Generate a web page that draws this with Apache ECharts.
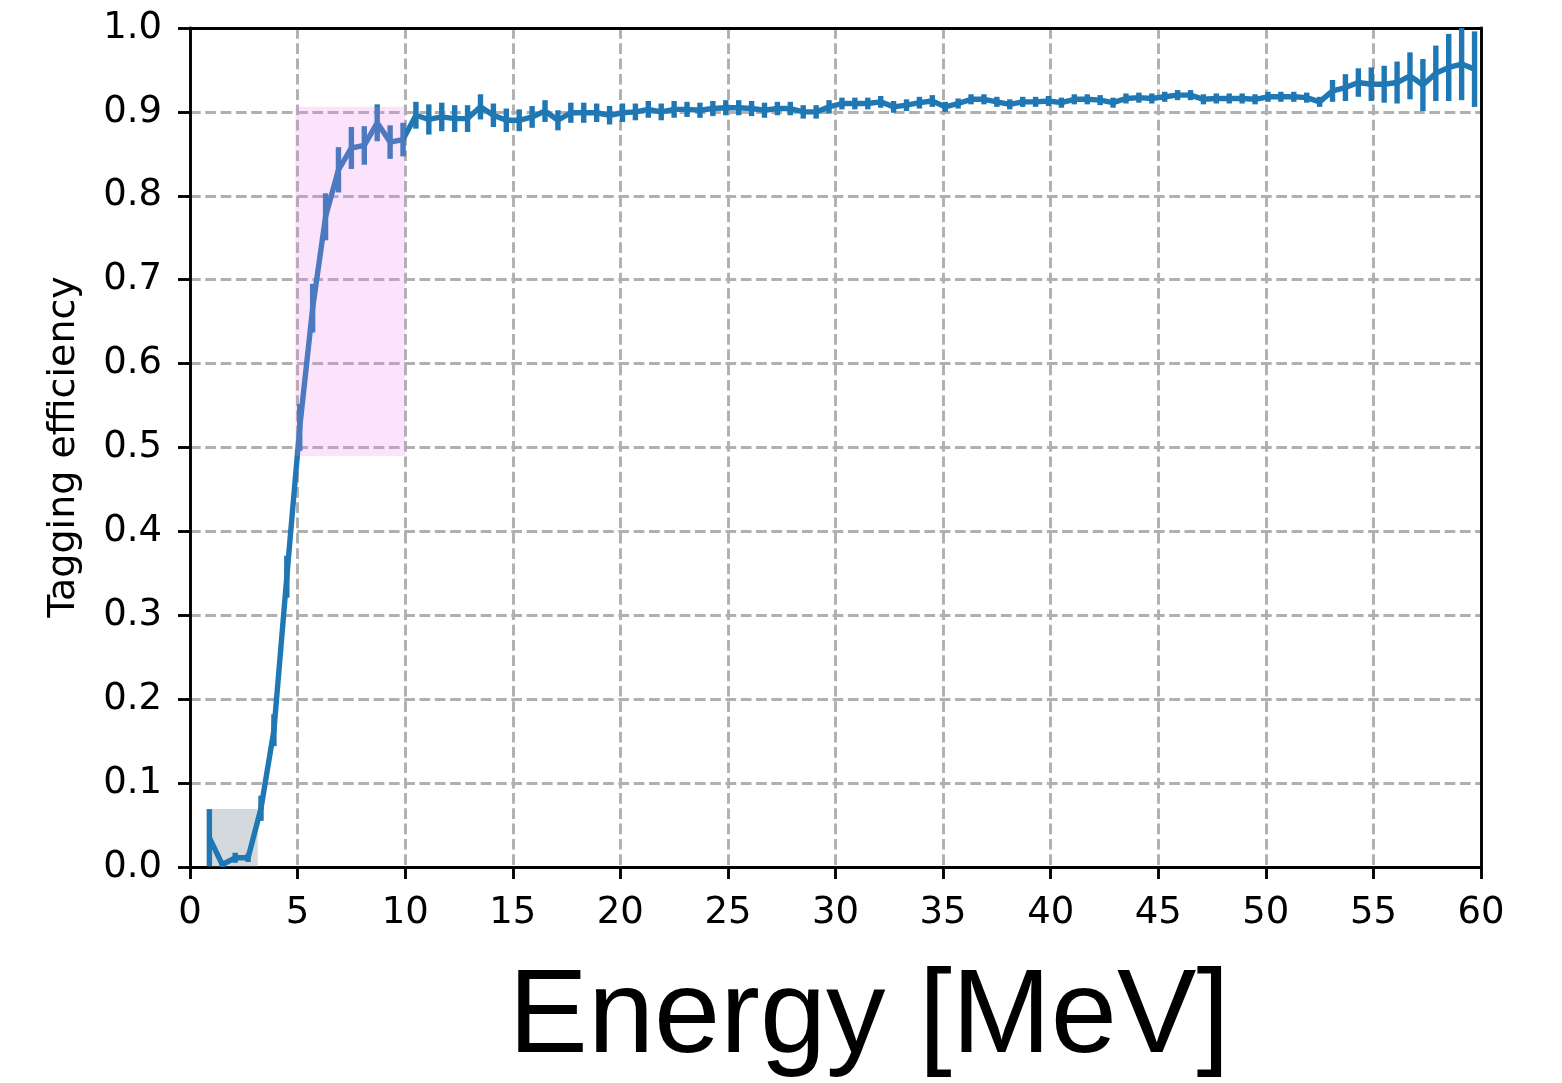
<!DOCTYPE html>
<html>
<head>
<meta charset="utf-8">
<title>Tagging efficiency</title>
<script src="https://cdn.jsdelivr.net/npm/echarts@6/dist/echarts.min.js"></script>
<style>
  html, body { margin: 0; padding: 0; background: #fff; }
  #chart { width: 1562px; height: 1083px; }
</style>
</head>
<body>
<div id="chart"></div>
<script>
// Bin centres [MeV]
const energy = [
    0.9, 1.5, 2.1, 2.7, 3.3, 3.9, 4.5, 5.1, 5.7, 6.3, 6.9, 7.5, 8.1, 8.7, 9.3, 9.9,
    10.5, 11.1, 11.7, 12.3, 12.9, 13.5, 14.1, 14.7, 15.3, 15.9, 16.5, 17.1, 17.7, 18.3, 18.9, 19.5,
    20.1, 20.7, 21.3, 21.9, 22.5, 23.1, 23.7, 24.3, 24.9, 25.5, 26.1, 26.7, 27.3, 27.9, 28.5, 29.1, 29.7,
    30.3, 30.9, 31.5, 32.1, 32.7, 33.3, 33.9, 34.5, 35.1, 35.7, 36.3, 36.9, 37.5, 38.1, 38.7, 39.3, 39.9,
    40.5, 41.1, 41.7, 42.3, 42.9, 43.5, 44.1, 44.7, 45.3, 45.9, 46.5, 47.1, 47.7, 48.3, 48.9, 49.5,
    50.1, 50.7, 51.3, 51.9, 52.5, 53.1, 53.7, 54.3, 54.9, 55.5, 56.1, 56.7, 57.3, 57.9, 58.5, 59.1, 59.7
];

// Tagging efficiency per bin
const efficiency = [
    0.035, 0.003, 0.011, 0.011, 0.070, 0.163, 0.346, 0.524, 0.666, 0.775, 0.831, 0.857, 0.860, 0.887, 0.864, 0.867,
    0.896, 0.891, 0.894, 0.892, 0.892, 0.906, 0.896, 0.890, 0.890, 0.894, 0.901, 0.890, 0.899, 0.899, 0.899, 0.896,
    0.899, 0.900, 0.903, 0.900, 0.903, 0.903, 0.902, 0.904, 0.905, 0.905, 0.904, 0.902, 0.904, 0.904, 0.900, 0.900, 0.906,
    0.910, 0.910, 0.910, 0.912, 0.906, 0.908, 0.911, 0.913, 0.906, 0.910, 0.915, 0.915, 0.912, 0.909, 0.912, 0.912, 0.913,
    0.911, 0.915, 0.915, 0.914, 0.911, 0.916, 0.917, 0.916, 0.918, 0.920, 0.920, 0.915, 0.916, 0.916, 0.916, 0.915,
    0.918, 0.918, 0.918, 0.917, 0.912, 0.925, 0.929, 0.935, 0.933, 0.933, 0.935, 0.943, 0.932, 0.946, 0.953, 0.957, 0.951
];

// Half-length of the error bars
const errors = [
    0.034, 0.003, 0.006, 0.005, 0.015, 0.019, 0.025, 0.028, 0.029, 0.028, 0.027, 0.025, 0.023, 0.022, 0.020, 0.020,
    0.016, 0.018, 0.017, 0.016, 0.016, 0.015, 0.014, 0.014, 0.013, 0.013, 0.013, 0.012, 0.012, 0.012, 0.011, 0.011,
    0.011, 0.010, 0.010, 0.010, 0.010, 0.009, 0.009, 0.009, 0.009, 0.009, 0.009, 0.009, 0.008, 0.008, 0.008, 0.008, 0.008,
    0.007, 0.007, 0.007, 0.007, 0.007, 0.007, 0.007, 0.007, 0.006, 0.006, 0.006, 0.006, 0.006, 0.006, 0.006, 0.006, 0.006,
    0.006, 0.006, 0.006, 0.006, 0.006, 0.006, 0.006, 0.006, 0.006, 0.006, 0.006, 0.006, 0.006, 0.006, 0.006, 0.006,
    0.006, 0.006, 0.006, 0.006, 0.006, 0.013, 0.016, 0.017, 0.020, 0.022, 0.025, 0.028, 0.031, 0.033, 0.040, 0.043, 0.045
];

// Shaded regions: [xStart, xEnd, yStart, yEnd]
const greyRegion = [0.8, 3.15, 0.0, 0.069];
const pinkRegion = [4.9, 10.0, 0.49, 0.906];

const xTicks = [0, 5, 10, 15, 20, 25, 30, 35, 40, 45, 50, 55, 60];

document.addEventListener('DOMContentLoaded', function() {
    const chart = echarts.init(document.getElementById('chart'));
    const blue = '#1f77b4';
    const tickFont = 'DejaVu Sans';

    const lineData = energy.map((e, i) => [e, efficiency[i]]);
    const errData = energy.map((e, i) => [e, efficiency[i] - errors[i], efficiency[i] + errors[i]]);

    // Vertical error bar
    function renderErrorBar(params, api) {
        const x = api.value(0);
        const lo = api.coord([x, api.value(1)]);
        const hi = api.coord([x, api.value(2)]);
        return {
            type: 'line',
            shape: { x1: lo[0], y1: lo[1], x2: hi[0], y2: hi[1] },
            style: { stroke: blue, lineWidth: 5.4 }
        };
    }

    // Shaded rectangle
    function makeRectRenderer(fill) {
        return function(params, api) {
            const p0 = api.coord([api.value(0), api.value(3)]);
            const p1 = api.coord([api.value(1), api.value(2)]);
            return {
                type: 'rect',
                shape: { x: p0[0], y: p0[1], width: p1[0] - p0[0], height: p1[1] - p0[1] },
                style: { fill: fill }
            };
        };
    }

    const spine = { show: true, onZero: false, lineStyle: { color: '#000', width: 2.9 } };
    const tick = { show: true, inside: false, length: 12, lineStyle: { color: '#000', width: 2.9 } };
    const gridLine = {
        show: true, showMinLine: false, showMaxLine: false,
        lineStyle: { color: '#b0b0b0', width: 2.9, type: [10.7, 4.6] }
    };

    const option = {
        animation: false,
        backgroundColor: '#fff',
        grid: { left: 190, right: 81, top: 28, bottom: 216 },
        xAxis: [
            {
                type: 'value',
                min: 0, max: 60, interval: 5,
                axisLine: spine,
                axisTick: tick,
                axisLabel: {
                    color: '#000', fontSize: 37, fontFamily: tickFont, margin: 28,
                    formatter: v => (xTicks.indexOf(v) >= 0 ? String(v) : '')
                },
                splitLine: gridLine
            },
            {
                // top spine
                type: 'value', position: 'top',
                min: 0, max: 60,
                axisLine: spine, axisTick: { show: false }, axisLabel: { show: false },
                splitLine: { show: false }
            }
        ],
        yAxis: [
            {
                type: 'value',
                min: 0, max: 1, interval: 0.1,
                axisLine: spine,
                axisTick: tick,
                axisLabel: {
                    color: '#000', fontSize: 37, fontFamily: tickFont, margin: 28,
                    formatter: v => v.toFixed(1)
                },
                splitLine: gridLine
            },
            {
                // right spine
                type: 'value', position: 'right',
                min: 0, max: 1,
                axisLine: spine, axisTick: { show: false }, axisLabel: { show: false },
                splitLine: { show: false }
            }
        ],
        graphic: [
            {
                type: 'text',
                x: 64, y: 447, rotation: Math.PI / 2,
                style: {
                    text: 'Tagging efficiency', fill: '#000',
                    font: '38px "DejaVu Sans"', align: 'center', verticalAlign: 'middle'
                }
            },
            {
                type: 'text',
                x: 869, y: 1019,
                style: {
                    text: 'Energy [MeV]', fill: '#000',
                    font: '119px "Liberation Sans"', align: 'center', verticalAlign: 'middle'
                }
            }
        ],
        series: [
            {
                type: 'custom',
                z: 1,
                renderItem: makeRectRenderer('rgba(112, 128, 144, 0.3)'),
                data: [greyRegion],
                silent: true
            },
            {
                type: 'line',
                z: 3,
                data: lineData,
                showSymbol: false,
                symbol: 'none',
                lineStyle: { color: blue, width: 5.4 },
                clip: true
            },
            {
                type: 'custom',
                z: 3,
                renderItem: renderErrorBar,
                data: errData,
                clip: true
            },
            {
                type: 'custom',
                z: 5,
                renderItem: makeRectRenderer('rgba(238, 130, 238, 0.22)'),
                data: [pinkRegion],
                silent: true
            }
        ]
    };

    chart.setOption(option);
});
</script>
</body>
</html>
